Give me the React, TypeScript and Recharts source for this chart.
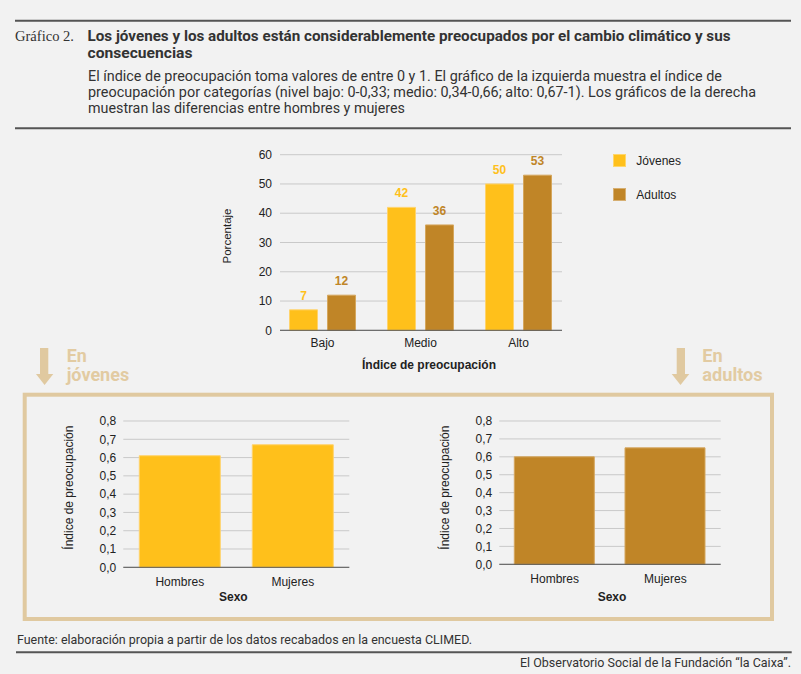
import React from "react";
import {
  BarChart,
  Bar,
  XAxis,
  YAxis,
  CartesianGrid,
  Legend,
  LabelList,
  Label,
} from "recharts";

// colours
const YELLOW = "#FFC01B";
const BROWN = "#C08527";
const TAN = "#E0C9A0";
const GRID = "#C9C9C9";
const INK = "#222222";
const FONT = "'Liberation Sans', Arial, sans-serif";

// top chart: worry index by level
const niveles = ["Bajo", "Medio", "Alto"];
const pctJovenes = [7, 42, 50];
const pctAdultos = [12, 36, 53];
const pctTicks = [0, 10, 20, 30, 40, 50, 60];
const seriesOrder = ["Jóvenes", "Adultos"];

// bottom charts: mean index by sex
const sexos = ["Hombres", "Mujeres"];
const indiceJovenes = [0.61, 0.67];
const indiceAdultos = [0.6, 0.65];
const indiceTicks = [0, 0.1, 0.2, 0.3, 0.4, 0.5, 0.6, 0.7, 0.8];

const nivelesData = niveles.map((n, i) => ({
  nivel: n,
  jovenes: pctJovenes[i],
  adultos: pctAdultos[i],
}));
const jovenesData = sexos.map((s, i) => ({ sexo: s, indice: indiceJovenes[i] }));
const adultosData = sexos.map((s, i) => ({ sexo: s, indice: indiceAdultos[i] }));

const comma = (v: number) => v.toFixed(1).replace(".", ",");

const tickStyle = { fontSize: 12, fill: INK, fontFamily: FONT };

function LegendBox({ payload }: any) {
  const items = [...(payload || [])].sort(
    (a: any, b: any) => seriesOrder.indexOf(a.value) - seriesOrder.indexOf(b.value)
  );
  return (
    <div style={{ fontFamily: FONT, fontSize: 12, color: INK }}>
      {items.map((p: any, i: number) => (
        <div
          key={i}
          style={{ display: "flex", alignItems: "center", height: 13, marginBottom: 21 }}
        >
          <span
            style={{
              width: 13,
              height: 13,
              background: p.color,
              boxSizing: "border-box",
              border: "1px solid rgba(255,255,255,0.35)",
              marginRight: 10,
            }}
          />
          <span>{p.value}</span>
        </div>
      ))}
    </div>
  );
}

function SexoChart({
  data,
  color,
  stroke,
  left,
  width,
  margin,
  axisHeight,
  tickMargin,
  barSize,
  yDx,
  yDy,
  xDx,
}: any) {
  return (
    <div style={{ position: "absolute", left, top: 405 }}>
      <BarChart width={width} height={205} data={data} margin={margin}>
        <CartesianGrid vertical={false} stroke={GRID} />
        <XAxis
          dataKey="sexo"
          height={axisHeight}
          tickLine={false}
          tickMargin={tickMargin}
          axisLine={{ stroke: "#555" }}
          tick={tickStyle}
        >
          <Label
            value="Sexo"
            position="insideBottom"
            offset={5}
            dx={xDx}
            style={{ fontSize: 12, fontWeight: "bold", fill: INK, fontFamily: FONT }}
          />
        </XAxis>
        <YAxis
          width={60}
          domain={[0, 0.8]}
          ticks={indiceTicks}
          interval={0}
          tickFormatter={comma}
          axisLine={false}
          tickLine={false}
          tickMargin={1}
          tick={tickStyle}
        >
          <Label
            value="Índice de preocupación"
            angle={-90}
            position="center"
            dx={yDx}
            dy={yDy}
            style={{ fontSize: 12, fill: INK, fontFamily: FONT }}
          />
        </YAxis>
        <Bar
          dataKey="indice"
          fill={color}
          stroke={stroke}
          strokeWidth={1}
          barSize={barSize}
          isAnimationActive={false}
        />
      </BarChart>
    </div>
  );
}

function Decor() {
  const header = { fontFamily: "Roboto, 'Liberation Sans', sans-serif", fill: "#333" };
  return (
    <svg
      width={801}
      height={674}
      style={{ position: "absolute", left: 0, top: 0 }}
    >
      <line x1={15} x2={791} y1={20.7} y2={20.7} stroke="#555" strokeWidth={2} />
      <line x1={15} x2={791} y1={128.3} y2={128.3} stroke="#555" strokeWidth={2} />
      <text
        x={15}
        y={41}
        fontFamily="'Liberation Serif', 'DejaVu Serif', serif"
        fontSize={14.5}
        fill="#333"
        textLength={59}
        lengthAdjust="spacingAndGlyphs"
      >
        Gráfico 2.
      </text>
      <g {...header} fontWeight="bold" fontSize={14.5}>
        <text x={87.5} y={41} textLength={643} lengthAdjust="spacingAndGlyphs">
          Los jóvenes y los adultos están considerablemente preocupados por el cambio climático y sus
        </text>
        <text x={87.5} y={57.5} textLength={105} lengthAdjust="spacingAndGlyphs">
          consecuencias
        </text>
      </g>
      <g {...header} fontSize={14}>
        <text x={88} y={80.5} textLength={634} lengthAdjust="spacingAndGlyphs">
          El índice de preocupación toma valores de entre 0 y 1. El gráfico de la izquierda muestra el índice de
        </text>
        <text x={88} y={97} textLength={668} lengthAdjust="spacingAndGlyphs">
          preocupación por categorías (nivel bajo: 0-0,33; medio: 0,34-0,66; alto: 0,67-1). Los gráficos de la derecha
        </text>
        <text x={88} y={113} textLength={317} lengthAdjust="spacingAndGlyphs">
          muestran las diferencias entre hombres y mujeres
        </text>
      </g>

      {/* arrows and captions */}
      <g fill={TAN}>
        <rect x={40} y={348} width={8.3} height={27} />
        <polygon points="36,374 53.3,374 44.6,385" />
        <rect x={676.7} y={348} width={8.3} height={27} />
        <polygon points="671.7,374 689.3,374 680.5,385" />
      </g>
      <g fontFamily="Roboto, 'Liberation Sans', sans-serif" fontWeight="bold" fontSize={17.5} fill="#E2CBA2">
        <text x={66.7} y={361.7} textLength={20} lengthAdjust="spacingAndGlyphs">En</text>
        <text x={66.7} y={380.5} textLength={62.5} lengthAdjust="spacingAndGlyphs">jóvenes</text>
        <text x={702.3} y={361.7} textLength={20.3} lengthAdjust="spacingAndGlyphs">En</text>
        <text x={702.3} y={380.5} textLength={60.4} lengthAdjust="spacingAndGlyphs">adultos</text>
      </g>
      <rect x={24.7} y={394.7} width={747.3} height={224.3} fill="none" stroke={TAN} strokeWidth={4} />

      {/* footer */}
      <g fontFamily="Roboto, 'Liberation Sans', sans-serif" fontSize={13} fill="#333">
        <text x={17} y={644} textLength={455} lengthAdjust="spacingAndGlyphs">
          Fuente: elaboración propia a partir de los datos recabados en la encuesta CLIMED.
        </text>
        <text x={520} y={666.7} textLength={271} lengthAdjust="spacingAndGlyphs">
          El Observatorio Social de la Fundación “la Caixa”.
        </text>
      </g>
      <line x1={16} x2={791.7} y1={652.3} y2={652.3} stroke="#555" strokeWidth={2} />
    </svg>
  );
}

export default function App(): JSX.Element {
  return (
    <div
      style={{
        position: "absolute",
        left: 0,
        top: 0,
        width: 801,
        height: 674,
        background: "#F2F2F2",
        overflow: "hidden",
      }}
    >
      <Decor />

      <div style={{ position: "absolute", left: 200, top: 140 }}>
        <BarChart
          width={500}
          height={240}
          data={nivelesData}
          barGap={10}
          margin={{ top: 14.7, right: 18, left: 20, bottom: 5.7 }}
        >
          <CartesianGrid vertical={false} stroke={GRID} />
          <XAxis
            dataKey="nivel"
            height={44}
            padding={{ left: -6.5, right: -5.5 }}
            tickLine={false}
            axisLine={{ stroke: "#555" }}
            tick={tickStyle}
          >
            <Label
              value="Índice de preocupación"
              position="insideBottom"
              offset={5}
              dx={8}
              style={{ fontSize: 12, fontWeight: "bold", fill: INK, fontFamily: FONT }}
            />
          </XAxis>
          <YAxis
            width={60}
            domain={[0, 60]}
            ticks={pctTicks}
            interval={0}
            axisLine={false}
            tickLine={false}
            tick={tickStyle}
          >
            <Label
              value="Porcentaje"
              angle={-90}
              position="center"
              dx={-23}
              dy={-6.5}
              style={{ fontSize: 11.5, fill: INK, fontFamily: FONT }}
            />
          </YAxis>
          <Legend
            verticalAlign="top"
            align="right"
            layout="vertical"
            content={<LegendBox />}
            wrapperStyle={{ left: 413.3, top: 14.3, width: 120, right: "auto" }}
          />
          <Bar
            dataKey="jovenes"
            name="Jóvenes"
            fill={YELLOW}
            stroke="#FFD36C"
            strokeWidth={1}
            barSize={28}
            isAnimationActive={false}
          >
            <LabelList
              dataKey="jovenes"
              position="top"
              offset={10}
              fill={YELLOW}
              fontSize={12}
              fontWeight="bold"
              fontFamily={FONT}
            />
          </Bar>
          <Bar
            dataKey="adultos"
            name="Adultos"
            fill={BROWN}
            stroke="#D5A75E"
            strokeWidth={1}
            barSize={28}
            isAnimationActive={false}
          >
            <LabelList
              dataKey="adultos"
              position="top"
              offset={10}
              fill={BROWN}
              fontSize={12}
              fontWeight="bold"
              fontFamily={FONT}
            />
          </Bar>
        </BarChart>
      </div>

      <SexoChart
        data={jovenesData}
        color={YELLOW}
        stroke="#FFD36C"
        left={30}
        width={340}
        margin={{ top: 16, right: 20.7, left: 33.3, bottom: 3.7 }}
        axisHeight={39}
        tickMargin={4}
        barSize={81}
        yDx={-25}
        yDy={-6.5}
        xDx={-3}
      />
      <SexoChart
        data={adultosData}
        color={BROWN}
        stroke="#D5A75E"
        left={410}
        width={330}
        margin={{ top: 16, right: 19.3, left: 29.3, bottom: 3.7 }}
        axisHeight={42}
        tickMargin={4.5}
        barSize={80}
        yDx={-24.3}
        yDy={-5}
        xDx={2}
      />
    </div>
  );
}
